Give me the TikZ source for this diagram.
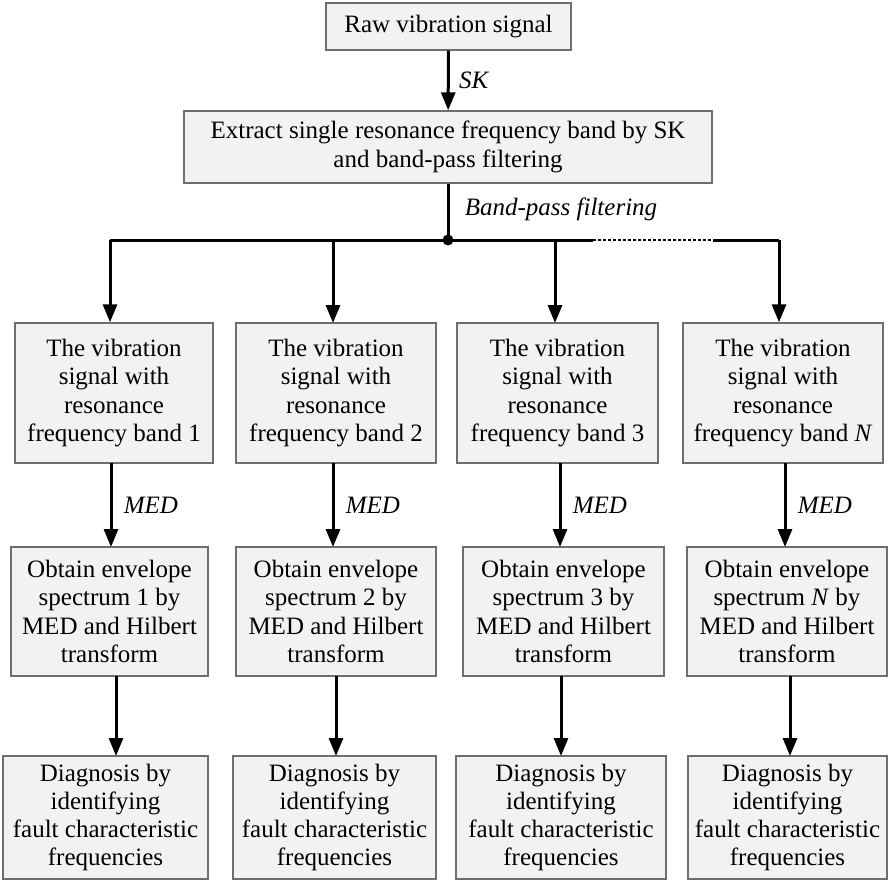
\documentclass[tikz,border=0pt]{standalone}
\usepackage{fontspec}
\setmainfont{Liberation Serif}
\usepackage{tikz}
\usetikzlibrary{arrows.meta,positioning,calc}
\definecolor{Bgray}{RGB}{242,242,242}
\definecolor{Lgray}{RGB}{110,110,110}
\tikzset{
  flow/.style={-{Triangle[length=18pt,width=14pt]}, line width=3pt, draw=black},
  bus/.style={line width=3pt, draw=black},
  graybox/.style={draw=Lgray, fill=Bgray, line width=1.4pt, align=center, inner sep=2pt,
    font=\fontsize{25}{28.3}\selectfont},
  steplabel/.style={font=\fontsize{25}{28}\selectfont\itshape, anchor=west}
}
\begin{document}
\begin{tikzpicture}[x=1pt, y=-1pt]
  \useasboundingbox (0,0) rectangle (896,888);

  % top part
  \node[graybox, minimum width=245pt, minimum height=47pt] (raw) at (448.5,26.5) {Raw vibration signal};
  \node[graybox, minimum width=528pt, minimum height=72pt] (extract) at (448,147)
    {Extract single resonance frequency band by SK\\and band-pass filtering};
  \coordinate (split) at (448,240);

  % resonance bands
  \node[graybox, minimum width=198pt, minimum height=140pt] (band1) at (114,393)
    {The vibration\\signal with\\resonance\\frequency band 1};
  \node[graybox, minimum width=200pt, minimum height=140pt] (band2) at (336,393)
    {The vibration\\signal with\\resonance\\frequency band 2};
  \node[graybox, minimum width=201pt, minimum height=140pt] (band3) at (557.5,393)
    {The vibration\\signal with\\resonance\\frequency band 3};
  \node[graybox, minimum width=200pt, minimum height=140pt] (bandN) at (783,393)
    {The vibration\\signal with\\resonance\\frequency band \textit{N}};

  % envelope spectra
  \node[graybox, minimum width=197pt, minimum height=129pt] (env1) at (109.5,611.5)
    {Obtain envelope\\spectrum 1 by\\MED and Hilbert\\transform};
  \node[graybox, minimum width=200pt, minimum height=129pt] (env2) at (336,611.5)
    {Obtain envelope\\spectrum 2 by\\MED and Hilbert\\transform};
  \node[graybox, minimum width=201pt, minimum height=129pt] (env3) at (563.5,611.5)
    {Obtain envelope\\spectrum 3 by\\MED and Hilbert\\transform};
  \node[graybox, minimum width=200pt, minimum height=129pt] (envN) at (787,611.5)
    {Obtain envelope\\spectrum \textit{N} by\\MED and Hilbert\\transform};

  % diagnosis
  \node[graybox, minimum width=205pt, minimum height=123pt] (diag1) at (105.5,817.5)
    {Diagnosis by\\identifying\\fault characteristic\\frequencies};
  \node[graybox, minimum width=203pt, minimum height=123pt] (diag2) at (334.5,817.5)
    {Diagnosis by\\identifying\\fault characteristic\\frequencies};
  \node[graybox, minimum width=210pt, minimum height=123pt] (diag3) at (561,817.5)
    {Diagnosis by\\identifying\\fault characteristic\\frequencies};
  \node[graybox, minimum width=199pt, minimum height=123pt] (diagN) at (787.5,817.5)
    {Diagnosis by\\identifying\\fault characteristic\\frequencies};

  % connectors
  \draw[flow] (raw) -- node[steplabel, xshift=6pt]{SK} (extract);
  \draw[bus] (extract) -- node[steplabel, pos=0.45, xshift=12pt]{Band-pass filtering} (split);
  \fill (split) circle (5.5pt);
  \coordinate (busL) at (110,240);
  \coordinate (busR) at (779,240);
  \coordinate (dashA) at (593,240);
  \coordinate (dashB) at (713,240);
  \draw[bus] (busL) -- (dashA);
  \draw[line width=2pt, dash pattern=on 3pt off 2pt] (dashA) -- (dashB);
  \draw[bus] (dashB) -- (busR);
  \draw[flow] (busL) -- (busL |- band1.north);
  \draw[flow] (333,240) -- (333,323);
  \draw[flow] (555,240) -- (555,323);
  \draw[flow] (busR) -- (busR |- bandN.north);

  \draw[flow] (111,463) -- node[steplabel, xshift=8pt]{MED} (111,547);
  \draw[flow] (333,463) -- node[steplabel, xshift=8pt]{MED} (333,547);
  \draw[flow] (560,463) -- node[steplabel, xshift=8pt]{MED} (560,547);
  \draw[flow] (785,463) -- node[steplabel, xshift=8pt]{MED} (785,547);

  \draw[flow] (116,676) -- (116,756);
  \draw[flow] (336,676) -- (336,756);
  \draw[flow] (561,676) -- (561,756);
  \draw[flow] (790,676) -- (790,756);
\end{tikzpicture}
\end{document}
